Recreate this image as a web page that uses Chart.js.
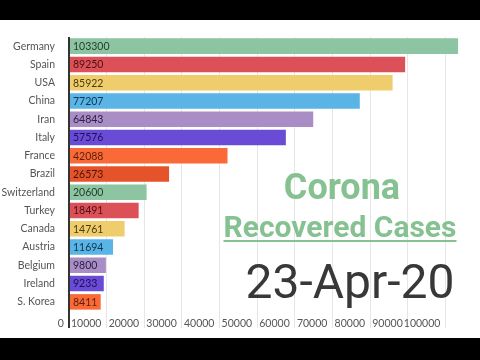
<!DOCTYPE html>
<html><head><meta charset="utf-8">
<script src="https://cdn.jsdelivr.net/npm/chart.js@4/dist/chart.umd.min.js"></script>
<style>
html,body{margin:0;padding:0;background:#fff;width:480px;height:360px;overflow:hidden;}
#wrap{position:absolute;left:0;top:0;width:480px;height:360px;}
.bar{position:absolute;left:0;width:480px;background:#000;}
.t{position:absolute;font-family:Roboto,sans-serif;white-space:nowrap;text-align:center;}
</style></head>
<body>
<div id="wrap"><canvas id="c" width="480" height="360"></canvas></div>
<div class="t" id="t1" style="left:242px;width:200px;top:169px;font-size:36px;line-height:36px;font-weight:700;color:#86c291;">Corona</div>
<div class="t" id="t2" style="left:190px;width:300px;top:212px;font-size:30px;line-height:30px;font-weight:700;color:#86c291;text-decoration:underline;text-decoration-thickness:2px;text-underline-offset:3px;">Recovered Cases</div>
<div class="t" id="t3" style="left:200px;width:300px;top:258px;font-size:48px;line-height:48px;font-weight:400;color:#383838;">23-Apr-20</div>
<div class="bar" style="top:0;height:20px;"></div>
<div class="bar" style="top:338px;height:22px;"></div>
<script>
const countries = ["Germany","Spain","USA","China","Iran","Italy","France","Brazil","Switzerland","Turkey","Canada","Austria","Belgium","Ireland","S. Korea"];
const recovered = [103300,89250,85922,77207,64843,57576,42088,26573,20600,18491,14761,11694,9800,9233,8411];
const barColors = ["#8dc4a1","#dc5157","#f0cd6c","#5ab4e5","#a98ec6","#6a4bd6","#fa6a38","#e5532a","#8dc4a1","#dc5157","#f0cd6c","#5ab4e5","#a98ec6","#6a4bd6","#fa6a38"];
const labelColors = ["#1f3d2a","#4a1015","#4a3a10","#0f3550","#2f2045","#1c0f55","#5a1f08","#4a1406","#1f3d2a","#4a1015","#4a3a10","#0f3550","#2f2045","#1c0f55","#5a1f08"];
const xTicks = [0,10000,20000,30000,40000,50000,60000,70000,80000,90000,100000];
const dateLabel = "23-Apr-20";

const valueLabels = {
  id:'valueLabels',
  afterDatasetsDraw(chart){
    const ctx = chart.ctx;
    const meta = chart.getDatasetMeta(0);
    ctx.save();
    ctx.font = '10.5px Lato, "Open Sans", sans-serif';
    ctx.textAlign = 'left';
    ctx.textBaseline = 'middle';
    meta.data.forEach((el,i)=>{
      ctx.fillStyle = labelColors[i];
      ctx.fillText(String(recovered[i]), el.base + 3, el.y + 0.5);
    });
    ctx.restore();
  }
};

new Chart(document.getElementById('c'), {
  type:'bar',
  data:{
    labels: countries,
    datasets:[{data: recovered, backgroundColor: barColors, borderWidth:0, barPercentage:0.85, categoryPercentage:1}]
  },
  options:{
    indexAxis:'y',
    responsive:false,
    animation:false,
    events:[],
    layout:{padding:{top:37,right:8,left:0,bottom:0}},
    plugins:{legend:{display:false},tooltip:{enabled:false},title:{display:false}},
    scales:{
      x:{
        type:'linear', min:0, max:107000,
        afterBuildTicks(scale){ scale.ticks = xTicks.map(v=>({value:v})); },
        afterFit(scale){ scale.height = 49; },
        border:{display:false},
        grid:{
          color:(c)=> (c.tick && c.tick.value===0) ? '#333333' : '#e6e6e6',
          lineWidth:(c)=> (c.tick && c.tick.value===0) ? 2 : 1,
          tickLength:17,
          drawTicks:true
        },
        ticks:{
          align:'end',
          padding:-11,
          maxRotation:0,
          minRotation:0,
          autoSkip:false,
          color:'#555',
          font:{family:'Lato, "Open Sans", sans-serif', size:10.5},
          callback:(v)=> String(v) + '\u2002'
        }
      },
      y:{
        afterFit(scale){ scale.width = 69; },
        border:{display:false},
        grid:{display:false},
        ticks:{padding:6, color:'#555', font:{family:'Lato, "Open Sans", sans-serif', size:10.5}}
      }
    }
  },
  plugins:[valueLabels]
});
</script>
</body></html>
